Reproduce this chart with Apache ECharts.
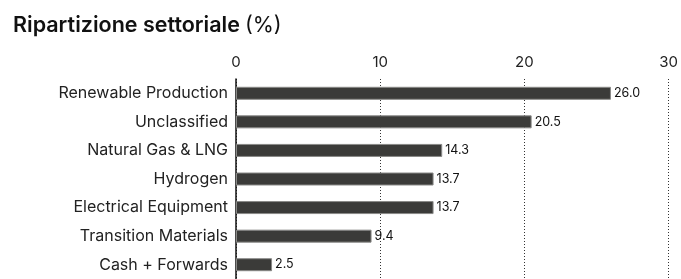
<!DOCTYPE html>
<html>
<head>
<meta charset="utf-8">
<script src="https://cdn.jsdelivr.net/npm/echarts@6/dist/echarts.min.js"></script>
<style>
  html, body { margin: 0; padding: 0; background: #fff; }
  #chart { width: 681px; height: 279px; }
</style>
</head>
<body>
<div id="chart"></div>
<script>
const categories = ['Renewable Production', 'Unclassified', 'Natural Gas & LNG', 'Hydrogen', 'Electrical Equipment', 'Transition Materials', 'Cash + Forwards']
const values = [26.0, 20.5, 14.3, 13.7, 13.7, 9.4, 2.5]
const ticks = [0, 10, 20, 30]

const font = 'Inter, "Noto Sans", sans-serif'

const chart = echarts.init(document.getElementById('chart'), null, { renderer: 'canvas' })

chart.setOption({
  animation: false,
  title: {
    text: '{b|Ripartizione settoriale} {r|(%)}',
    left: 8,
    top: 10,
    textStyle: {
      rich: {
        b: { fontFamily: font, fontSize: 21.5, fontWeight: 600, color: '#111' },
        r: { fontFamily: font, fontSize: 21.5, fontWeight: 400, color: '#111' }
      }
    }
  },
  grid: {
    left: 236,
    right: 11,
    top: 79,
    height: 206.5,
    containLabel: false
  },
  xAxis: {
    type: 'value',
    position: 'top',
    min: ticks[0],
    max: ticks[ticks.length - 1],
    interval: 10,
    axisLine: { show: false },
    axisTick: { show: false },
    axisLabel: {
      margin: 9,
      fontFamily: font,
      fontSize: 15,
      color: '#222',
      formatter: v => String(v)
    },
    splitLine: {
      show: true,
      lineStyle: { type: [1, 2], color: '#333', width: 1 }
    }
  },
  yAxis: {
    type: 'category',
    data: categories,
    inverse: true,
    axisLine: { show: true, lineStyle: { color: '#111', width: 1.5 } },
    axisTick: { show: false },
    axisLabel: {
      margin: 8,
      fontFamily: font,
      fontSize: 16,
      color: '#222'
    }
  },
  series: [{
    type: 'bar',
    data: values,
    barWidth: 13,
    itemStyle: {
      color: '#3b3b39',
      borderColor: '#8a8a88',
      borderWidth: 1
    },
    label: {
      show: true,
      position: 'right',
      distance: 3,
      fontFamily: font,
      fontSize: 12.5,
      color: '#111',
      formatter: p => p.value.toFixed(1)
    }
  }]
})
</script>
</body>
</html>
